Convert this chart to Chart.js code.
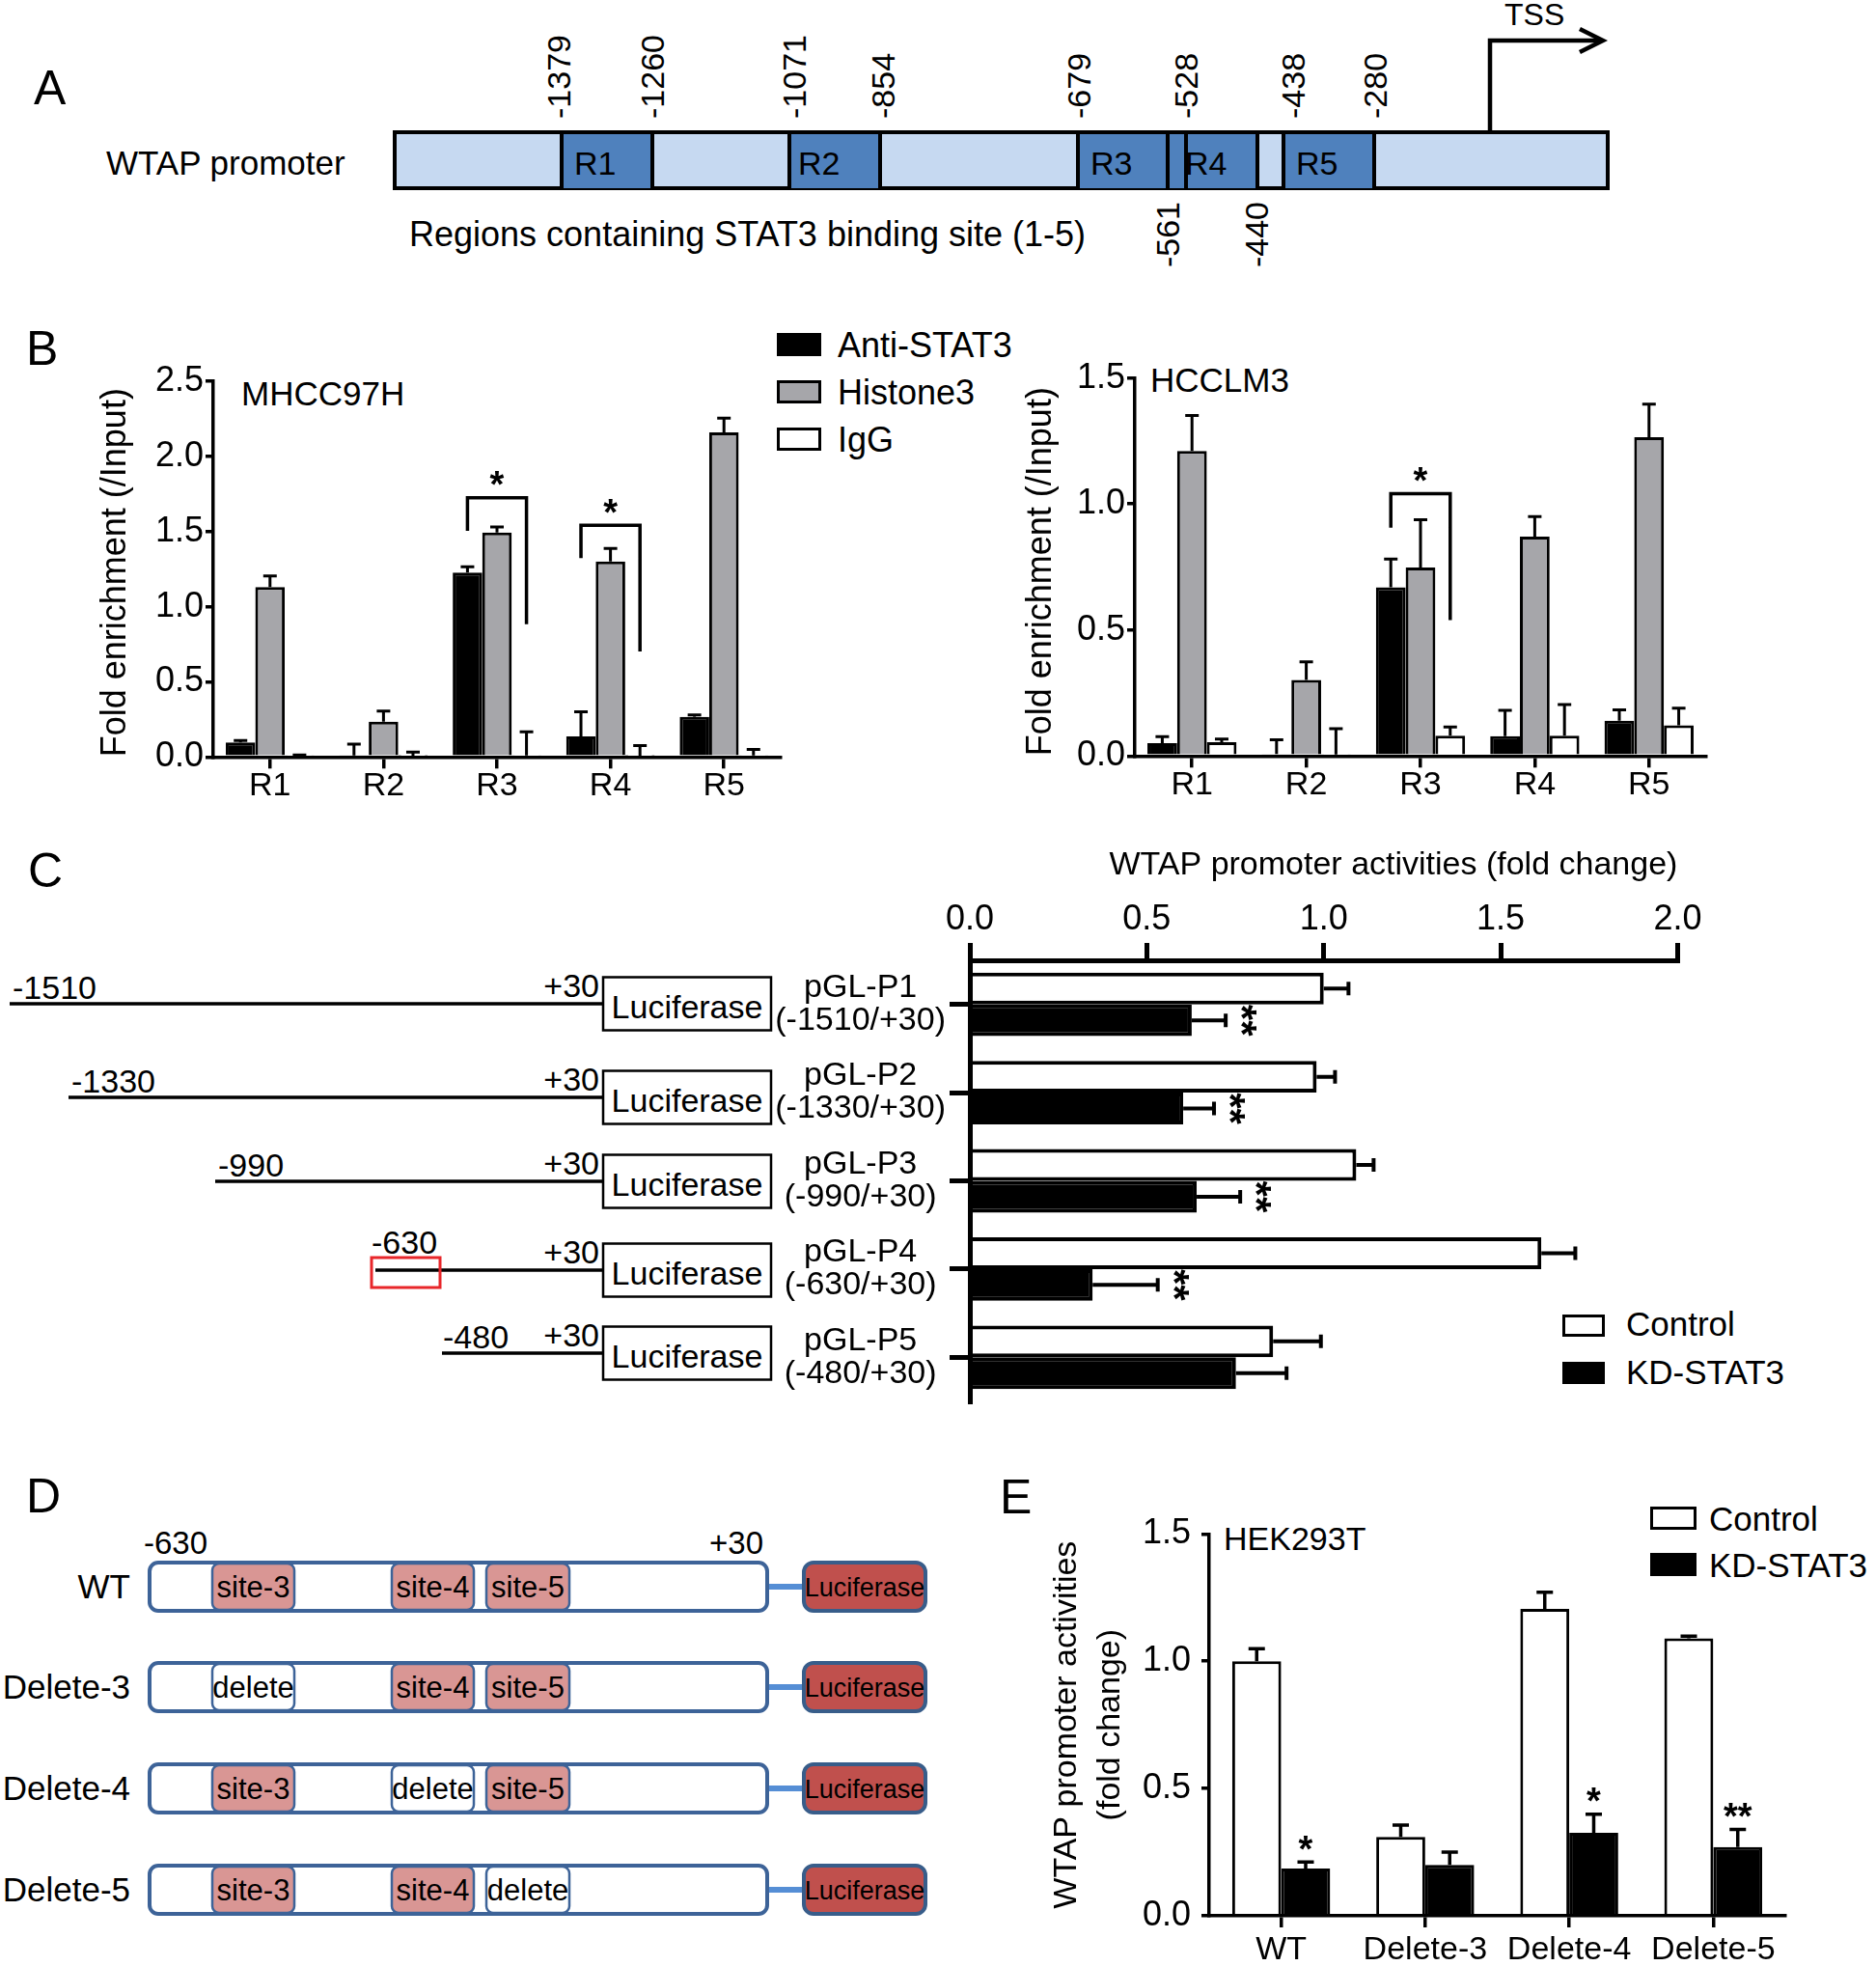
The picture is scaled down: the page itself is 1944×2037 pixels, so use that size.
<!DOCTYPE html>
<html>
<head>
<meta charset="utf-8">
<title>STAT3 binding on the WTAP promoter</title>
<script src="https://cdn.jsdelivr.net/npm/chart.js@4.4.1/dist/chart.umd.min.js"></script>
<style>
  html, body { margin: 0; padding: 0; background: #fff; }
  #page { position: relative; width: 1944px; height: 2037px; overflow: hidden; background: #fff; }
  #page canvas, #page svg { position: absolute; }
  svg text { font-family: "Liberation Sans", Arial, Helvetica, sans-serif; fill: #000; }
</style>
</head>
<body>
<div id="page">
<svg id="art" width="1944" height="2037" style="left:0;top:0">
  <!-- panel letters -->
  <g font-size="50">
    <text x="35" y="108">A</text>
    <text x="27" y="378">B</text>
    <text x="29" y="919">C</text>
    <text x="27" y="1567">D</text>
    <text x="1036" y="1568">E</text>
  </g>

  <!-- A: promoter map -->
  <text x="110" y="181" font-size="35">WTAP promoter</text>
  <rect x="409" y="137" width="1257" height="58" fill="#c6d9f1" stroke="#000" stroke-width="4"/>
  <g fill="#4f81bd">
    <rect x="582" y="139" width="94" height="56"/>
    <rect x="818" y="139" width="94" height="56"/>
    <rect x="1117" y="139" width="186" height="56"/>
    <rect x="1330" y="139" width="94" height="56"/>
  </g>
  <g stroke="#000" stroke-width="4">
    <line x1="582" y1="137" x2="582" y2="195"/>
    <line x1="676" y1="137" x2="676" y2="195"/>
    <line x1="818" y1="137" x2="818" y2="195"/>
    <line x1="912" y1="137" x2="912" y2="195"/>
    <line x1="1117" y1="137" x2="1117" y2="195"/>
    <line x1="1210" y1="137" x2="1210" y2="195"/>
    <line x1="1229" y1="137" x2="1229" y2="195"/>
    <line x1="1303" y1="137" x2="1303" y2="195"/>
    <line x1="1330" y1="137" x2="1330" y2="195"/>
    <line x1="1424" y1="137" x2="1424" y2="195"/>
  </g>
  <g font-size="34" style="fill:#111">
    <text x="595" y="181">R1</text>
    <text x="827" y="181">R2</text>
    <text x="1130" y="181">R3</text>
    <text x="1228" y="181">R4</text>
    <text x="1343" y="181">R5</text>
  </g>
  <g font-size="34">
    <text transform="translate(579 123) rotate(-90)" y="12">-1379</text>
    <text transform="translate(676 123) rotate(-90)" y="12">-1260</text>
    <text transform="translate(823 123) rotate(-90)" y="12">-1071</text>
    <text transform="translate(915 123) rotate(-90)" y="12">-854</text>
    <text transform="translate(1118 123) rotate(-90)" y="12">-679</text>
    <text transform="translate(1229 123) rotate(-90)" y="12">-528</text>
    <text transform="translate(1340 123) rotate(-90)" y="12">-438</text>
    <text transform="translate(1425 123) rotate(-90)" y="12">-280</text>
    <text transform="translate(1210 209) rotate(-90)" y="12" text-anchor="end">-561</text>
    <text transform="translate(1302 209) rotate(-90)" y="12" text-anchor="end">-440</text>
  </g>
  <polyline points="1544,137 1544,42 1660,42" fill="none" stroke="#000" stroke-width="4.5"/>
  <polyline points="1637,30 1661,42 1637,54" fill="none" stroke="#000" stroke-width="4.5"/>
  <text x="1559" y="26" font-size="32">TSS</text>
  <text x="424" y="255" font-size="36">Regions containing STAT3 binding site (1-5)</text>

  <!-- B: legend and cell lines -->
  <rect x="806.5" y="346.5" width="43" height="21" fill="#000" stroke="#000" stroke-width="3"/>
  <rect x="806.5" y="395.5" width="43" height="21" fill="#a6a6aa" stroke="#000" stroke-width="3"/>
  <rect x="806.5" y="444.5" width="43" height="21" fill="#fff" stroke="#000" stroke-width="3"/>
  <g font-size="36">
    <text x="868" y="370">Anti-STAT3</text>
    <text x="868" y="419">Histone3</text>
    <text x="868" y="468">IgG</text>
  </g>
  <text x="250" y="420" font-size="35">MHCC97H</text>
  <text x="1192" y="406" font-size="35">HCCLM3</text>

  <!-- C: reporter constructs -->
  <g stroke="#000" stroke-width="3.5">
    <line x1="10" y1="1040" x2="625" y2="1040"/>
    <line x1="71" y1="1137" x2="625" y2="1137"/>
    <line x1="223" y1="1224" x2="625" y2="1224"/>
    <line x1="389" y1="1316" x2="625" y2="1316"/>
    <line x1="458" y1="1402" x2="625" y2="1402"/>
  </g>
  <rect x="385" y="1303" width="71" height="31" fill="none" stroke="#e8262a" stroke-width="3"/>
  <g font-size="34">
    <text x="13" y="1035">-1510</text>
    <text x="74" y="1132">-1330</text>
    <text x="226" y="1219">-990</text>
    <text x="385" y="1299">-630</text>
    <text x="459" y="1397">-480</text>
  </g>
  <g font-size="34" text-anchor="end">
    <text x="621" y="1033">+30</text>
    <text x="621" y="1130">+30</text>
    <text x="621" y="1217">+30</text>
    <text x="621" y="1309">+30</text>
    <text x="621" y="1395">+30</text>
  </g>
  <g fill="#fff" stroke="#000" stroke-width="2.5">
    <rect x="625" y="1012.5" width="174" height="55"/>
    <rect x="625" y="1109.5" width="174" height="55"/>
    <rect x="625" y="1196.5" width="174" height="55"/>
    <rect x="625" y="1288.5" width="174" height="55"/>
    <rect x="625" y="1374.5" width="174" height="55"/>
  </g>
  <g font-size="34" text-anchor="middle">
    <text x="712" y="1055">Luciferase</text>
    <text x="712" y="1152">Luciferase</text>
    <text x="712" y="1239">Luciferase</text>
    <text x="712" y="1331">Luciferase</text>
    <text x="712" y="1417">Luciferase</text>
  </g>
  <rect x="1620.5" y="1363.5" width="41" height="20" fill="#fff" stroke="#000" stroke-width="3"/>
  <rect x="1620.5" y="1412.5" width="41" height="20" fill="#000" stroke="#000" stroke-width="3"/>
  <g font-size="35">
    <text x="1685" y="1384">Control</text>
    <text x="1685" y="1434">KD-STAT3</text>
  </g>

  <!-- D: site deletion constructs -->
  <g font-size="33">
    <text x="149" y="1610">-630</text>
    <text x="791" y="1610" text-anchor="end">+30</text>
  </g>
  <g id="rowD"></g>

  <!-- E: legend and cell line -->
  <rect x="1711.5" y="1562.5" width="45" height="21" fill="#fff" stroke="#000" stroke-width="3"/>
  <rect x="1711.5" y="1610.5" width="45" height="21" fill="#000" stroke="#000" stroke-width="3"/>
  <g font-size="35">
    <text x="1771" y="1586">Control</text>
    <text x="1771" y="1634">KD-STAT3</text>
  </g>
  <text x="1268" y="1606" font-size="34">HEK293T</text>
</svg>
<canvas id="chipMhcc"></canvas>
<canvas id="chipHcclm"></canvas>
<canvas id="lucTruncation"></canvas>
<canvas id="lucDeletion"></canvas>
</div>

<script>
// ---------- data ----------
const regions = ['R1', 'R2', 'R3', 'R4', 'R5'];

// B, MHCC97H: fold enrichment over input, bar height and upward error
const mhccStat3    = [0.096, 0.01, 1.227, 0.137, 0.267];
const mhccStat3Err = [0.013, 0.075, 0.038, 0.163, 0.013];
const mhccH3       = [1.13, 0.235, 1.494, 1.30, 2.16];
const mhccH3Err    = [0.075, 0.071, 0.036, 0.087, 0.095];
const mhccIgg      = [0.01, 0.005, 0.01, 0.005, 0.01];
const mhccIggErr   = [0.003, 0.027, 0.157, 0.07, 0.04];
// significance brackets: region index, left leg foot, bar height, right leg foot
const mhccSigIndex = [2, 3];
const mhccSigLeft  = [1.505, 1.323];
const mhccSigTop   = [1.725, 1.541];
const mhccSigRight = [0.884, 0.702];

// B, HCCLM3
const hcclmStat3    = [0.051, 0.008, 0.67, 0.079, 0.14];
const hcclmStat3Err = [0.026, 0.056, 0.112, 0.102, 0.043];
const hcclmH3       = [1.211, 0.302, 0.748, 0.871, 1.265];
const hcclmH3Err    = [0.14, 0.072, 0.19, 0.079, 0.131];
const hcclmIgg      = [0.055, 0.006, 0.081, 0.081, 0.122];
const hcclmIggErr   = [0.012, 0.102, 0.034, 0.123, 0.068];
const hcclmSigIndex = [2];
const hcclmSigLeft  = [0.906];
const hcclmSigTop   = [1.041];
const hcclmSigRight = [0.539];

// C, truncated promoter reporters
const constructs = [
  ['pGL-P1', '(-1510/+30)'],
  ['pGL-P2', '(-1330/+30)'],
  ['pGL-P3', '(-990/+30)'],
  ['pGL-P4', '(-630/+30)'],
  ['pGL-P5', '(-480/+30)']
];
const truncControl    = [1.0, 0.98, 1.092, 1.615, 0.857];
const truncControlErr = [0.07, 0.052, 0.049, 0.096, 0.135];
const truncKd         = [0.627, 0.603, 0.641, 0.347, 0.752];
const truncKdErr      = [0.096, 0.087, 0.123, 0.184, 0.143];
const truncStars      = ['**', '**', '**', '**', ''];

// E, binding-site deletions in HEK293T
const deletions      = ['WT', 'Delete-3', 'Delete-4', 'Delete-5'];
const delControl     = [1.0, 0.31, 1.205, 1.09];
const delControlErr  = [0.049, 0.046, 0.066, 0.008];
const delKd          = [0.186, 0.20, 0.326, 0.27];
const delKdErr       = [0.025, 0.05, 0.073, 0.069];
const delStars       = ['*', '', '*', '**'];

// D, which sites each construct keeps
const siteRows  = ['WT', 'Delete-3', 'Delete-4', 'Delete-5'];
const siteNames = ['site-3', 'site-4', 'site-5'];
const siteKept  = [[1, 1, 1], [0, 1, 1], [1, 0, 1], [1, 1, 0]];

// ---------- D schematic ----------
(function drawSites() {
  const g = document.getElementById('rowD');
  const rowTop = [1617, 1721, 1826, 1931];
  const siteX = [219, 405, 503], siteW = [87, 87, 88];
  let s = '';
  siteRows.forEach((name, r) => {
    const t = rowTop[r], mid = t + 27;
    s += `<rect x="155" y="${t + 2}" width="640" height="50" rx="9" fill="#fff" stroke="#3d6398" stroke-width="4"/>`;
    siteNames.forEach((site, k) => {
      const kept = siteKept[r][k];
      s += `<rect x="${siteX[k] + 1}" y="${t + 3}" width="${siteW[k] - 2}" height="48" rx="7" fill="${kept ? '#d99694' : '#fff'}" stroke="#3d6398" stroke-width="2.5"/>`;
      s += `<text x="${siteX[k] + siteW[k] / 2}" y="${mid + 11}" font-size="31" text-anchor="middle">${kept ? site : 'delete'}</text>`;
    });
    s += `<line x1="797" y1="${mid}" x2="833" y2="${mid}" stroke="#558ed5" stroke-width="6"/>`;
    s += `<rect x="833" y="${t + 2}" width="126" height="50" rx="10" fill="#c0504d" stroke="#385d8a" stroke-width="4"/>`;
    s += `<text x="896" y="${mid + 10}" font-size="27" text-anchor="middle">Luciferase</text>`;
    s += `<text x="135" y="${mid + 12}" font-size="35" text-anchor="end">${name}</text>`;
  });
  g.innerHTML = s;
})();

// ---------- charts ----------
Chart.defaults.font.family = "'Liberation Sans', Arial, Helvetica, sans-serif";
Chart.defaults.color = '#000';
Chart.defaults.animation = false;
Chart.defaults.plugins.legend.display = false;
Chart.defaults.plugins.tooltip.enabled = false;

// put a canvas on the page so its plot area sits on given page coordinates
function frame(id, box, area, valueAxisOnTop) {
  const c = document.getElementById(id);
  c.width = box.w;
  c.height = box.h;
  c.style.left = box.x + 'px';
  c.style.top = box.y + 'px';
  return {
    canvas: c,
    padding: valueAxisOnTop
      ? {left: 0, top: 0, right: box.x + box.w - area.r, bottom: box.y + box.h - area.b}
      : {left: 0, top: area.t - box.y, right: box.x + box.w - area.r, bottom: 0},
    side: area.l - box.x,
    band: valueAxisOnTop ? area.t - box.y : box.y + box.h - area.b
  };
}

function star(ctx, text, x, y, size, rotated) {
  ctx.save();
  ctx.font = `bold ${size}px 'Liberation Sans', Arial, sans-serif`;
  ctx.fillStyle = '#000';
  ctx.textAlign = 'center';
  ctx.textBaseline = 'alphabetic';
  const lift = size * 0.57; // an asterisk sits high in the em box
  if (rotated) {
    ctx.translate(x - lift, y);
    ctx.rotate(Math.PI / 2);
  } else {
    ctx.translate(x, y + lift);
  }
  ctx.fillText(text, 0, 0);
  ctx.restore();
}

// one-sided (upward / rightward) SEM bars, read from dataset.errors
function errorBars(lineWidth, halfCap) {
  return {
    id: 'errorBars',
    afterDatasetsDraw(chart) {
      const ctx = chart.ctx;
      const horizontal = chart.options.indexAxis === 'y';
      const scale = horizontal ? chart.scales.x : chart.scales.y;
      ctx.save();
      ctx.strokeStyle = '#000';
      ctx.lineWidth = lineWidth;
      chart.data.datasets.forEach((ds, di) => {
        chart.getDatasetMeta(di).data.forEach((bar, i) => {
          const from = scale.getPixelForValue(ds.data[i]);
          const to = scale.getPixelForValue(ds.data[i] + ds.errors[i]);
          ctx.beginPath();
          if (horizontal) {
            ctx.moveTo(from, bar.y); ctx.lineTo(to, bar.y);
            ctx.moveTo(to, bar.y - halfCap); ctx.lineTo(to, bar.y + halfCap);
          } else {
            ctx.moveTo(bar.x, from); ctx.lineTo(bar.x, to);
            ctx.moveTo(bar.x - halfCap, to); ctx.lineTo(bar.x + halfCap, to);
          }
          ctx.stroke();
        });
      });
      ctx.restore();
    }
  };
}

// bracket from the Anti-STAT3 bar to the IgG bar of a region, with a star
function brackets(index, left, top, right) {
  return {
    id: 'brackets',
    afterDatasetsDraw(chart) {
      const ctx = chart.ctx, y = chart.scales.y;
      const first = chart.getDatasetMeta(0).data, last = chart.getDatasetMeta(2).data;
      ctx.save();
      ctx.strokeStyle = '#000';
      ctx.lineWidth = 3.5;
      index.forEach((k, i) => {
        const x1 = first[k].x, x2 = last[k].x, yt = y.getPixelForValue(top[i]);
        ctx.beginPath();
        ctx.moveTo(x1, y.getPixelForValue(left[i]));
        ctx.lineTo(x1, yt);
        ctx.lineTo(x2, yt);
        ctx.lineTo(x2, y.getPixelForValue(right[i]));
        ctx.stroke();
        star(ctx, '*', (x1 + x2) / 2, yt - 22, 38, false);
      });
      ctx.restore();
    }
  };
}

// significance marks beyond the KD-STAT3 error bars
function stars(marks, gap, size) {
  return {
    id: 'stars',
    afterDatasetsDraw(chart) {
      const ds = chart.data.datasets[1];
      const horizontal = chart.options.indexAxis === 'y';
      const scale = horizontal ? chart.scales.x : chart.scales.y;
      chart.getDatasetMeta(1).data.forEach((bar, i) => {
        if (!marks[i]) return;
        const end = scale.getPixelForValue(ds.data[i] + ds.errors[i]);
        if (horizontal) star(chart.ctx, marks[i], end + gap, bar.y, size, true);
        else star(chart.ctx, marks[i], bar.x, end - gap, size, false);
      });
    }
  };
}

const tickGrid = (len, w) => ({
  offset: false, drawOnChartArea: false, drawTicks: true,
  tickLength: len, tickWidth: w, lineWidth: w, tickColor: '#000', color: '#000'
});

function chipChart(id, box, area, max, series, sigPlugin, titlePad) {
  const f = frame(id, box, area, false);
  const bar = {categoryPercentage: 0.78, barPercentage: 1, borderColor: '#000', borderWidth: 3};
  return new Chart(f.canvas, {
    type: 'bar',
    data: {
      labels: regions,
      datasets: [
        Object.assign({label: 'Anti-STAT3', data: series[0], errors: series[1], backgroundColor: '#000'}, bar),
        Object.assign({label: 'Histone3', data: series[2], errors: series[3], backgroundColor: '#a6a6aa'}, bar),
        Object.assign({label: 'IgG', data: series[4], errors: series[5], backgroundColor: '#fff'}, bar)
      ]
    },
    options: {
      responsive: false,
      layout: {padding: f.padding},
      scales: {
        x: {
          afterFit: s => { s.height = f.band; },
          grid: tickGrid(12, 3.5),
          border: {color: '#000', width: 3.5, z: 1},
          ticks: {font: {size: 34, lineHeight: 1}, padding: 1, autoSkip: false, maxRotation: 0}
        },
        y: {
          min: 0, max: max,
          afterFit: s => { s.width = f.side; },
          grid: tickGrid(8, 3.5),
          border: {color: '#000', width: 3.5, z: 1},
          ticks: {stepSize: 0.5, callback: v => v.toFixed(1), font: {size: 36, lineHeight: 1}, padding: 2},
          title: {display: true, text: 'Fold enrichment (/Input)', align: 'start',
                  font: {size: 36}, padding: {top: titlePad, bottom: 0}}
        }
      }
    },
    plugins: [errorBars(3, 7), sigPlugin]
  });
}

chipChart('chipMhcc', {x: 90, y: 350, w: 730, h: 500}, {l: 221, t: 395, r: 809, b: 784.3}, 2.5,
  [mhccStat3, mhccStat3Err, mhccH3, mhccH3Err, mhccIgg, mhccIggErr],
  brackets(mhccSigIndex, mhccSigLeft, mhccSigTop, mhccSigRight), 8.4);

chipChart('chipHcclm', {x: 1040, y: 350, w: 740, h: 500}, {l: 1176, t: 391.7, r: 1768, b: 783.3}, 1.5,
  [hcclmStat3, hcclmStat3Err, hcclmH3, hcclmH3Err, hcclmIgg, hcclmIggErr],
  brackets(hcclmSigIndex, hcclmSigLeft, hcclmSigTop, hcclmSigRight), 17.4);

// C
(function () {
  const f = frame('lucTruncation', {x: 760, y: 870, w: 1030, h: 640}, {l: 1005, t: 995, r: 1738.4, b: 1452}, true);
  const bar = {categoryPercentage: 0.72, barPercentage: 1, borderColor: '#000', borderWidth: 4};
  new Chart(f.canvas, {
    type: 'bar',
    data: {
      labels: constructs,
      datasets: [
        Object.assign({label: 'Control', data: truncControl, errors: truncControlErr, backgroundColor: '#fff'}, bar),
        Object.assign({label: 'KD-STAT3', data: truncKd, errors: truncKdErr, backgroundColor: '#000'}, bar)
      ]
    },
    options: {
      indexAxis: 'y',
      responsive: false,
      layout: {padding: f.padding},
      scales: {
        x: {
          position: 'top', min: 0, max: 2,
          afterFit: s => { s.height = f.band; },
          grid: tickGrid(18, 5),
          border: {color: '#000', width: 5, z: 1},
          ticks: {stepSize: 0.5, callback: v => v.toFixed(1), font: {size: 36, lineHeight: 1}, padding: 6},
          title: {display: true, text: 'WTAP promoter activities (fold change)', align: 'end',
                  font: {size: 34}, padding: {top: 6, bottom: 0}}
        },
        y: {
          afterFit: s => { s.width = f.side; },
          grid: tickGrid(21, 5),
          border: {color: '#000', width: 5, z: 1},
          ticks: {crossAlign: 'center', font: {size: 34, lineHeight: 1}, padding: 4, autoSkip: false}
        }
      }
    },
    plugins: [errorBars(4, 7), stars(truncStars, 27, 42)]
  });
})();

// E
(function () {
  const f = frame('lucDeletion', {x: 1040, y: 1550, w: 820, h: 495}, {l: 1253, t: 1589.3, r: 1850, b: 1985}, false);
  const bar = {categoryPercentage: 0.68, barPercentage: 1, borderColor: '#000', borderWidth: 3};
  new Chart(f.canvas, {
    type: 'bar',
    data: {
      labels: deletions,
      datasets: [
        Object.assign({label: 'Control', data: delControl, errors: delControlErr, backgroundColor: '#fff'}, bar),
        Object.assign({label: 'KD-STAT3', data: delKd, errors: delKdErr, backgroundColor: '#000'}, bar)
      ]
    },
    options: {
      responsive: false,
      layout: {padding: f.padding},
      scales: {
        x: {
          afterFit: s => { s.height = f.band; },
          grid: tickGrid(12, 3.5),
          border: {color: '#000', width: 3.5, z: 1},
          ticks: {font: {size: 34, lineHeight: 1}, padding: 7, autoSkip: false, maxRotation: 0}
        },
        y: {
          min: 0, max: 1.5,
          afterFit: s => { s.width = f.side; },
          grid: tickGrid(8, 3.5),
          border: {color: '#000', width: 3.5, z: 1},
          ticks: {stepSize: 0.5, callback: v => v.toFixed(1), font: {size: 36, lineHeight: 1}, padding: 11},
          title: {display: true, text: ['WTAP promoter activities', '(fold change)'], align: 'center',
                  font: {size: 34, lineHeight: 1.3}, padding: {top: 44, bottom: 0}}
        }
      }
    },
    plugins: [errorBars(3.5, 8.5), stars(delStars, 22, 38)]
  });
})();
</script>
</body>
</html>
